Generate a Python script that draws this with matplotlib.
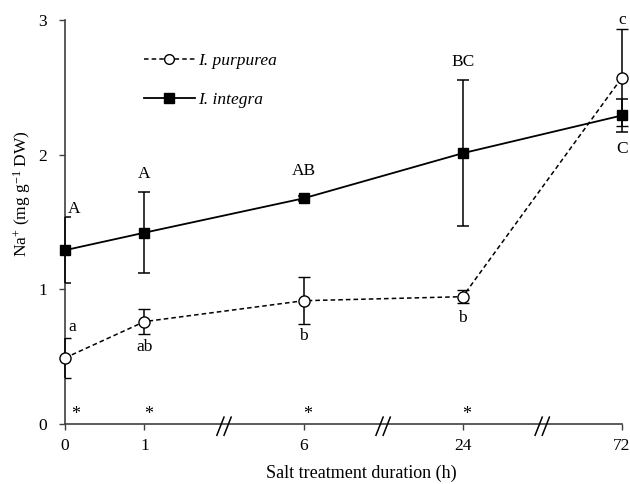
#!/usr/bin/env python
# -*- coding: utf-8 -*-

import matplotlib
matplotlib.use('Agg')
import matplotlib.pyplot as plt
import matplotlib.transforms as mtransforms
from matplotlib.lines import Line2D
import numpy as np

# Na+ content (mg g-1 DW) after salt treatment
hours = ['0', '1', '6', '24', '72']

purpurea = [0.49, 0.76, 0.915, 0.945, 2.57]
purpurea_err = [0.15, 0.09, 0.175, 0.05, 0.36]
purpurea_letters = ['a', 'ab', 'b', 'b', 'c']

integra = [1.29, 1.42, 1.675, 2.01, 2.29]
integra_err = [0.245, 0.30, 0.02, 0.54, 0.12]
integra_letters = ['A', 'A', 'AB', 'BC', 'C']

signif = ['*', '*', '*', '*', '']


def main():
    plt.rc('font', family = 'Liberation Serif')
    plt.rcParams['mathtext.fontset'] = 'custom'
    plt.rcParams['mathtext.rm'] = 'Liberation Serif'
    plt.rcParams['mathtext.it'] = 'Liberation Serif:italic'

    # broken axis: one gap slot between 1 and 6, 6 and 24, 24 and 72
    xpos = np.array([0, 1, 3, 5, 7])
    breaks = [2, 4, 6]

    fig = plt.figure(figsize = (6.3, 4.84), dpi = 100)
    ax = fig.add_axes([0.103, 0.124, 0.884, 0.835])

    # caps are cut at the y axis (like the original), but not at the right end
    clip = mtransforms.TransformedBbox(
        mtransforms.Bbox([[0, -0.2], [1.2, 1.2]]), ax.transAxes)

    series = [
        (purpurea, purpurea_err, dict(ls = (0, (3, 2)), lw = 1.1, marker = 'o',
                                      ms = 8, mfc = 'white', mew = 1.0), 3),
        (integra, integra_err, dict(ls = '-', lw = 1.3, marker = 's',
                                    ms = 7.5, mfc = 'black'), 4),
    ]
    for vals, err, kw, z in series:
        line, caps, bars = ax.errorbar(
            xpos, vals, yerr = err, color = 'black', mec = 'black',
            ecolor = 'black', elinewidth = 1.1, capsize = 4, capthick = 1.1,
            zorder = z, **kw
        )
        line.set_clip_on(False)
        for c in caps:
            c.set_clip_box(clip)
        for b in bars:
            b.set_clip_on(False)

    ax.set_xlim(0, 7)
    ax.set_ylim(0, 3)
    ax.set_xticks(xpos)
    ax.set_xticklabels(hours)
    ax.set_yticks([0, 1, 2, 3])
    ax.tick_params(labelsize = 12.5, direction = 'out', length = 4,
                   width = 1.0, color = '#404040')
    ax.tick_params(axis = 'x', pad = 6)
    ax.tick_params(axis = 'y', pad = 9)
    for s in ['top', 'right']:
        ax.spines[s].set_visible(False)
    for s in ['left', 'bottom']:
        ax.spines[s].set_color('#404040')
        ax.spines[s].set_linewidth(1.2)

    ax.set_xlabel('Salt treatment duration (h)', fontsize = 13)
    ax.xaxis.set_label_coords(0.533, -0.1)
    ax.set_ylabel(r'Na$^{+}$ (mg g$^{-1}$ DW)', fontsize = 12.5)
    ax.yaxis.set_label_coords(-0.058, 0.57)

    # axis break marks
    trans = mtransforms.blended_transform_factory(ax.transData, ax.transAxes)
    for b in breaks:
        for dx in (-0.045, 0.045):
            ax.plot([b + dx - 0.045, b + dx + 0.045], [-0.028, 0.017],
                    color = 'black', lw = 1.1, transform = trans,
                    clip_on = False, zorder = 5)

    # letters for I. integra
    fs = 12.5
    ax.text(0.04, integra[0] + integra_err[0] + 0.0, integra_letters[0],
            fontsize = fs, ha = 'left', va = 'bottom')
    ax.text(xpos[1], integra[1] + integra_err[1] + 0.08, integra_letters[1],
            fontsize = fs, ha = 'center', va = 'bottom')
    ax.text(xpos[2], integra[2] + 0.14, integra_letters[2],
            fontsize = fs, ha = 'center', va = 'bottom')
    ax.text(xpos[3], integra[3] + integra_err[3] + 0.08, integra_letters[3],
            fontsize = fs, ha = 'center', va = 'bottom')
    ax.text(xpos[4], integra[4] - integra_err[4] - 0.07, integra_letters[4],
            fontsize = fs, ha = 'center', va = 'top')

    # letters for I. purpurea
    ax.text(0.04, purpurea[0] + purpurea_err[0] + 0.02, purpurea_letters[0],
            fontsize = fs, ha = 'left', va = 'bottom')
    ax.text(xpos[1], purpurea[1] - purpurea_err[1] - 0.04, purpurea_letters[1],
            fontsize = fs, ha = 'center', va = 'top')
    ax.text(xpos[2], purpurea[2] - purpurea_err[2] - 0.03, purpurea_letters[2],
            fontsize = fs, ha = 'center', va = 'top')
    ax.text(xpos[3], purpurea[3] - purpurea_err[3] - 0.05, purpurea_letters[3],
            fontsize = fs, ha = 'center', va = 'top')
    ax.text(xpos[4], purpurea[4] + purpurea_err[4] + 0.01, purpurea_letters[4],
            fontsize = fs, ha = 'center', va = 'bottom')

    # significance between species
    for x, s in zip(xpos, signif):
        if s:
            ax.text(max(x, 0.09) + 0.05, 0.01, s, fontsize = 13,
                    ha = 'center', va = 'bottom')

    handles = [
        Line2D([], [], color = 'black', ls = (0, (3, 2)), lw = 1.1, marker = 'o',
               ms = 7, mfc = 'white', mec = 'black'),
        Line2D([], [], color = 'black', ls = '-', lw = 1.3, marker = 's',
               ms = 7, mfc = 'black', mec = 'black'),
    ]
    leg = ax.legend(
        handles, ['I. purpurea', 'I. integra'],
        loc = 'upper left', bbox_to_anchor = (0.13, 0.935),
        frameon = False, fontsize = 12.5, handlelength = 2.9,
        handletextpad = 0.2, labelspacing = 1.3, borderaxespad = 0
    )
    for t in leg.get_texts():
        t.set_fontstyle('italic')

    fig.savefig('out.png', dpi = 100)


if __name__ == "__main__":
    main()
